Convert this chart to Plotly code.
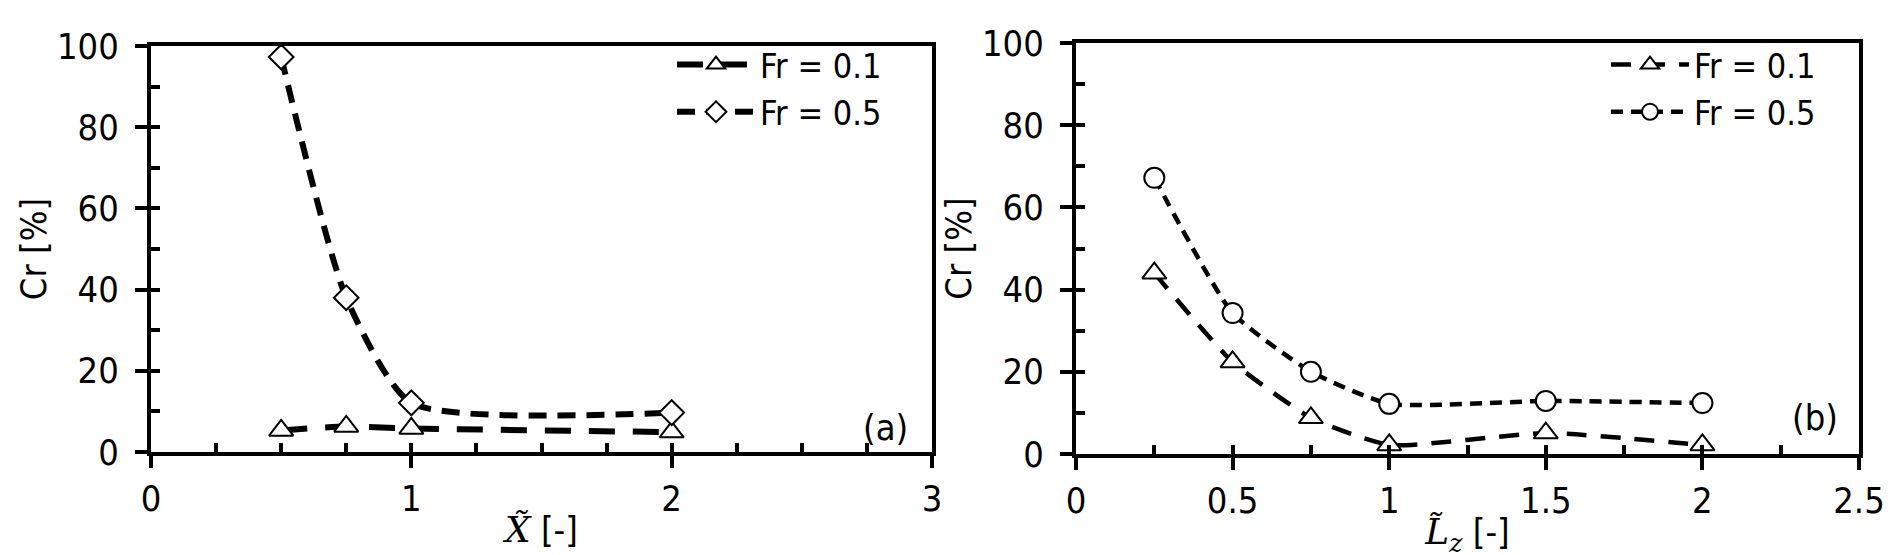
import plotly.graph_objects as go

# (a) Cr vs X~
x_a = [0.5, 0.75, 1, 2]
cr_a_fr01 = [5.3, 6.3, 5.8, 4.9]
cr_a_fr05 = [97.3, 38.0, 12.1, 9.7]

# (b) Cr vs Lz~
x_b = [0.25, 0.5, 0.75, 1, 1.5, 2]
cr_b_fr01 = [44.0, 22.4, 8.8, 2.2, 5.1, 2.2]
cr_b_fr05 = [67.2, 34.3, 20.0, 12.2, 12.9, 12.4]

series_names = ['Fr = 0.1', 'Fr = 0.5']
panel_tags = ['(a)', '(b)']

FONT = 'Liberation Sans Narrow, DejaVu Sans Condensed, Arial Narrow, sans-serif'
FS = 36
W, H = 1892, 555

def marker(symbol, size=18):
    return dict(symbol=symbol, size=size, color='white', line=dict(color='black', width=2))

fig = go.Figure()

fig.add_trace(go.Scatter(x=x_a, y=cr_a_fr01, name=series_names[0], mode='lines+markers',
                         line=dict(color='black', width=6, dash='26px,18px', shape='spline', smoothing=0.6),
                         marker=marker('triangle-up', 21), xaxis='x', yaxis='y', legend='legend'))
fig.add_trace(go.Scatter(x=x_a, y=cr_a_fr05, name=series_names[1], mode='lines+markers',
                         line=dict(color='black', width=6, dash='18px,11px', shape='spline', smoothing=0.6),
                         marker=marker('diamond', 19), xaxis='x', yaxis='y', legend='legend'))
fig.add_trace(go.Scatter(x=x_b, y=cr_b_fr01, name=series_names[0], mode='lines+markers',
                         line=dict(color='black', width=4.5, dash='20px,14px', shape='spline', smoothing=0.5),
                         marker=marker('triangle-up', 21), xaxis='x2', yaxis='y2', legend='legend2'))
fig.add_trace(go.Scatter(x=x_b, y=cr_b_fr05, name=series_names[1], mode='lines+markers',
                         line=dict(color='black', width=4.5, dash='12px,8px', shape='spline', smoothing=0.5),
                         marker=marker('circle', 20), xaxis='x2', yaxis='y2', legend='legend2'))

# empty traces so the overlay tick axes get drawn
fig.add_trace(go.Scatter(x=[], y=[], xaxis='x3', yaxis='y3', showlegend=False))
fig.add_trace(go.Scatter(x=[], y=[], xaxis='x4', yaxis='y4', showlegend=False))

tickfont = dict(size=FS, family=FONT, color='black')

def main_axis(domain, rng, dtick, anchor, title, label_gap=0):
    return dict(domain=domain, range=rng, dtick=dtick, tick0=0, anchor=anchor,
                ticks='outside', ticklen=12, tickwidth=4, tickcolor='black',
                showline=True, linewidth=4, linecolor='black', mirror=True,
                showgrid=False, zeroline=False, tickfont=tickfont,
                ticklabelstandoff=label_gap,
                title=dict(text=title, font=dict(size=FS, family=FONT, color='black'), standoff=0),
                automargin=False)

def inner_ticks(over, anchor, rng, dtick):
    return dict(overlaying=over, anchor=anchor, range=rng, dtick=dtick, tick0=0,
                ticks='inside', ticklen=9, tickwidth=4, tickcolor='black',
                showticklabels=False, showline=False, showgrid=False, zeroline=False)

xa_title = '<span style="font-family:DejaVu Serif"><i>X̃</i></span> [-]'
xb_title = '<span style="font-family:DejaVu Serif"><i>L̃</i><sub><i>z</i></sub></span> [-]'

legend_style = dict(xanchor='left', yanchor='top', bgcolor='rgba(0,0,0,0)',
                    font=dict(size=34, family=FONT, color='black'),
                    tracegroupgap=0, itemwidth=78)

fig.update_layout(
    width=W, height=H,
    margin=dict(l=0, r=0, t=0, b=0),
    paper_bgcolor='white', plot_bgcolor='white',
    font=dict(family=FONT, size=FS, color='black'),
    xaxis=main_axis([143 / W, 924 / W], [0, 3], 1, 'y', xa_title),
    yaxis=main_axis([1 - 444 / H, 1 - 38 / H], [0, 100], 20, 'x', 'Cr [%]', 9),
    xaxis2=main_axis([1068 / W, 1851 / W], [0, 2.5], 0.5, 'y2', xb_title),
    yaxis2=main_axis([1 - 446 / H, 1 - 35 / H], [0, 100], 20, 'x2', 'Cr [%]', 9),
    xaxis3=inner_ticks('x', 'y', [0, 3], 0.25),
    yaxis3=inner_ticks('y', 'x', [0, 100], 10),
    xaxis4=inner_ticks('x2', 'y2', [0, 2.5], 0.25),
    yaxis4=inner_ticks('y2', 'x2', [0, 100], 10),
    legend=dict(x=664 / W, y=1 - 28 / H, **legend_style),
    legend2=dict(x=1598 / W, y=1 - 28 / H, **legend_style),
    annotations=[
        dict(text=panel_tags[0], x=2.82, y=6, xref='x', yref='y', showarrow=False,
             font=dict(size=FS, family=FONT, color='black')),
        dict(text=panel_tags[1], x=2.36, y=8.8, xref='x2', yref='y2', showarrow=False,
             font=dict(size=FS, family=FONT, color='black')),
    ],
    showlegend=True,
)

fig.write_html("out.html")
